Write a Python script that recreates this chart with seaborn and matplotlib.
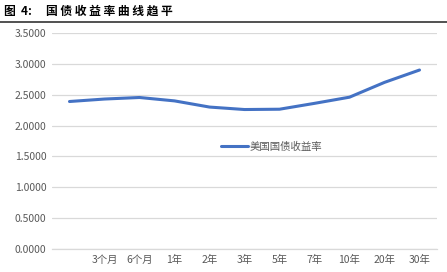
import matplotlib
matplotlib.use("Agg")
import matplotlib.pyplot as plt
import seaborn as sns
import pandas as pd

categories = ["1个月", "3个月", "6个月", "1年", "2年", "3年", "5年", "7年", "10年", "20年", "30年"]
tick_labels = ["", "3个月", "6个月", "1年", "2年", "3年", "5年", "7年", "10年", "20年", "30年"]
yields = [2.39, 2.43, 2.455, 2.40, 2.30, 2.26, 2.265, 2.36, 2.46, 2.70, 2.90]
series_name = "美国国债收益率"
title_prefix = "图  4:"
title_text = "国债收益率曲线趋平"

sns.set_theme(style="white")
plt.rcParams["font.family"] = ["Noto Sans CJK SC", "DejaVu Sans"]

df = pd.DataFrame({"pos": range(len(categories)), "val": yields, "series": series_name})

fig = plt.figure(figsize=(4.47, 2.72), dpi=100)
ax = fig.add_axes([52/447, 1 - 249/272, (437-52)/447, (249-33)/272])

sns.lineplot(data=df, x="pos", y="val", hue="series", palette=["#4472C4"],
             linewidth=2.2, ax=ax)

ax.set_xlim(-0.5, len(categories) - 0.5)
ax.set_ylim(0, 3.5)
ax.set_yticks([i * 0.5 for i in range(8)])
ax.set_yticklabels([f"{i*0.5:.4f}" for i in range(8)], color="#595959", fontsize=7.5)
ax.set_xticks(range(len(categories)))
ax.set_xticklabels(tick_labels, color="#595959", fontsize=7.5)
ax.tick_params(axis="both", length=0, pad=4)
ax.set_xlabel("")
ax.set_ylabel("")
ax.grid(axis="y", color="#D9D9D9", linewidth=0.9)
ax.set_axisbelow(True)
for s in ["top", "right", "left"]:
    ax.spines[s].set_visible(False)
ax.spines["bottom"].set_color("#D9D9D9")
ax.spines["bottom"].set_linewidth(0.9)

leg = ax.legend(loc="center", bbox_to_anchor=(0.57, 0.475), frameon=False,
                fontsize=7.5, handlelength=2.6, handletextpad=0.2)
for t in leg.get_texts():
    t.set_color("#595959")

fig.text(4/447, 1 - 11/272, title_prefix, fontsize=8.5, fontweight="bold", va="center",
         ha="left", color="black")
fig.text(46/447, 1 - 11/272, " ".join(title_text), fontsize=8.5, fontweight="bold",
         va="center", ha="left", color="black")
fig.add_artist(plt.Line2D([0, 1], [1 - 22/272, 1 - 22/272], color="#333333", linewidth=1.2,
                          transform=fig.transFigure))

fig.savefig("out.png", dpi=100)
